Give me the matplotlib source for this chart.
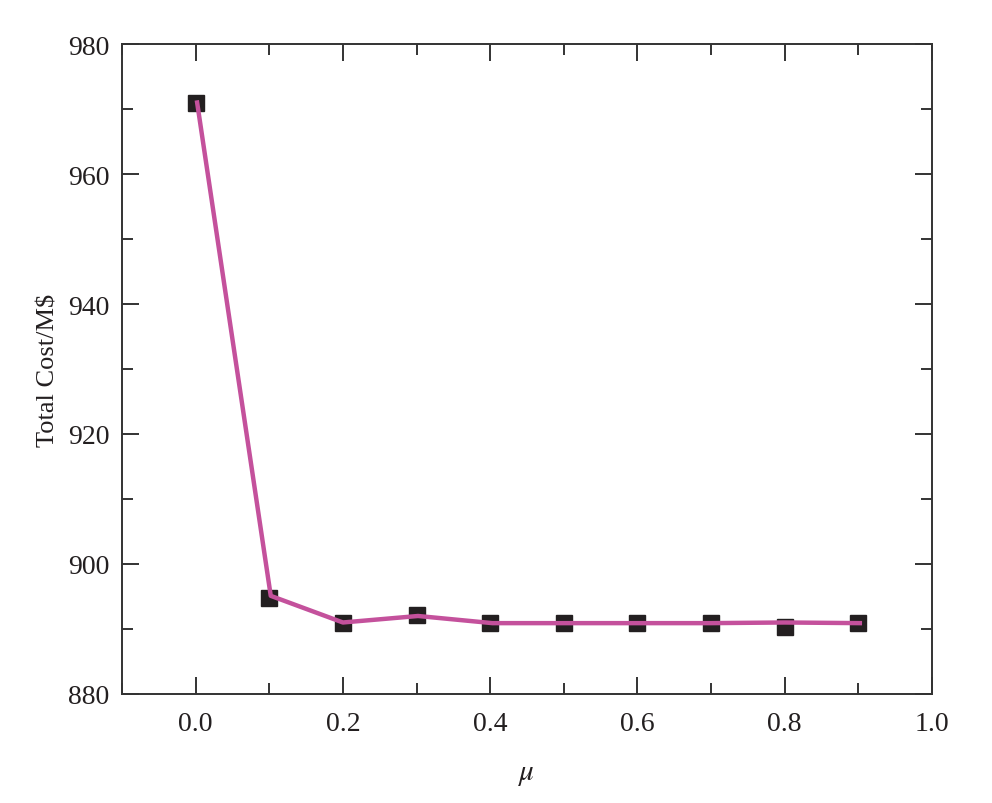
import matplotlib.pyplot as plt
from matplotlib.ticker import MultipleLocator

# data
mu = [0.0, 0.1, 0.2, 0.3, 0.4, 0.5, 0.6, 0.7, 0.8, 0.9]
cost_points = [971.0, 894.8, 890.9, 892.2, 890.9, 890.9, 890.9, 890.9, 890.3, 890.9]
cost_line = [971.0, 895.1, 891.0, 892.0, 890.9, 890.9, 890.9, 890.9, 891.0, 890.9]
mu_line = [0.002, 0.102, 0.2, 0.302, 0.403, 0.5, 0.6, 0.7, 0.8, 0.902]

plt.rcParams['font.family'] = ['Liberation Serif', 'DejaVu Serif']
plt.rcParams['mathtext.fontset'] = 'stix'

fig = plt.figure(figsize=(9.92, 8.04), dpi=100)
ax = fig.add_axes([0.123, 0.1356, 0.8165, 0.8084])

ax.plot(mu, cost_points, 's', color='#231f20', markersize=12, zorder=2)
ax.plot(mu_line, cost_line, '-', color='#c4519c', linewidth=3.2, zorder=3)

ax.set_xlim(-0.1, 1.0)
ax.set_ylim(880, 980)
ax.xaxis.set_minor_locator(MultipleLocator(0.1))
ax.yaxis.set_major_locator(MultipleLocator(20))
ax.yaxis.set_minor_locator(MultipleLocator(10))
ax.set_xticks([0.0, 0.2, 0.4, 0.6, 0.8, 1.0])
ax.set_xticklabels(['0.0', '0.2', '0.4', '0.6', '0.8', '1.0'])

for s in ax.spines.values():
    s.set_color('#333333')
    s.set_linewidth(1.4)
ax.tick_params(which='both', direction='in', top=True, right=True,
               color='#333333', width=1.4, labelsize=20, labelcolor='#231f20')
ax.tick_params(which='major', length=12, pad=9)
ax.tick_params(axis='x', which='major', pad=12)
ax.tick_params(which='minor', length=8)

ax.set_xlabel(r'$\mu$', fontsize=21, labelpad=18, color='#231f20')
ax.set_ylabel('Total Cost/M$', fontsize=19, labelpad=6, color='#231f20')

plt.savefig('out.png', dpi=100)
plt.close()
